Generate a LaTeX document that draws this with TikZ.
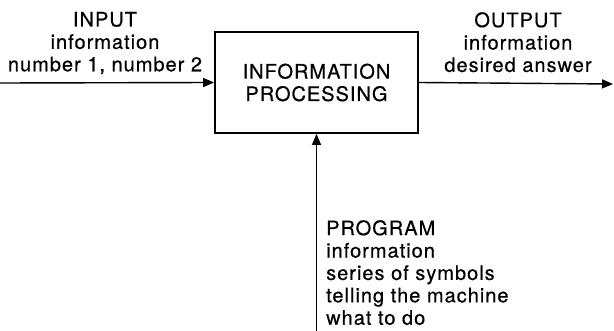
\documentclass[tikz,border=0pt]{standalone}
\usepackage{fontspec}
\setmainfont{TeX Gyre Heros}[LetterSpace=5,FakeBold=0.5]
\usetikzlibrary{arrows.meta}
\begin{document}
\begin{tikzpicture}[x=1pt,y=-1pt,
  lbl/.style={inner sep=0pt,font=\fontsize{20}{22.4}\selectfont},
  conn/.style={line width=1.4pt,-{Triangle[length=11pt,width=9pt]}},
  procbox/.style={draw,line width=1.8pt,minimum width=203pt,minimum height=101pt,inner sep=0pt,align=center,font=\fontsize{20}{22.4}\selectfont}]
\useasboundingbox (0,0) rectangle (614,331);
\node[procbox] (box) at (316.5,82.5) {INFORMATION\\PROCESSING};
\node[lbl,align=center,anchor=north] (inlbl) at (105,11.7) {INPUT\\information\\number 1, number 2};
\node[lbl,align=center,anchor=north] (outlbl) at (518,12) {OUTPUT\\information\\desired answer};
\node[lbl,align=left,anchor=north west] (proglbl) at (326,220) {PROGRAM\\information\\series of symbols\\telling the machine\\what to do};
\coordinate (inS) at (0,83);
\coordinate (outE) at (613,84);
\coordinate (progS) at (316.5,331);
\draw[conn] (inS) -- (box.west);
\draw[conn] (box.east) -- (outE);
\draw[conn] (progS) -- (box.south);
\end{tikzpicture}
\end{document}
